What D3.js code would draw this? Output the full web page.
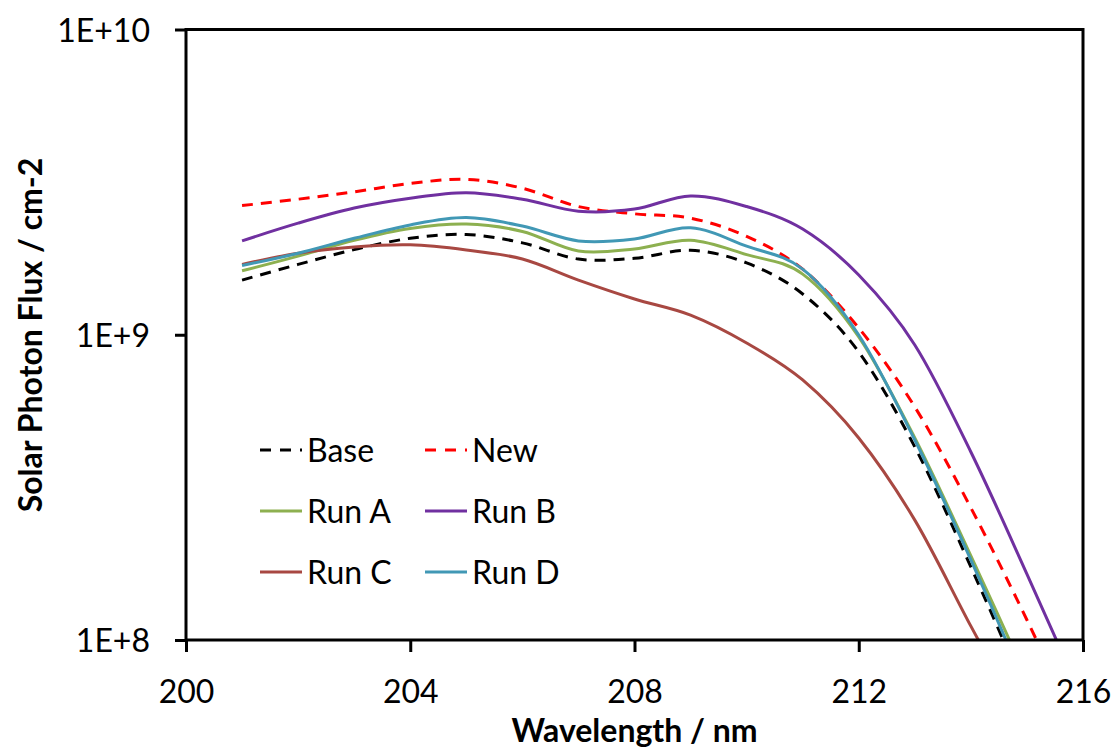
<!DOCTYPE html>
<html>
<head>
<meta charset="utf-8">
<script src="https://cdn.jsdelivr.net/npm/d3@7"></script>
<style>
  html, body { margin: 0; padding: 0; background: #fff; }
  svg { display: block; }
  text { font-family: Lato, "Open Sans", "DejaVu Sans", sans-serif; fill: #000; }
</style>
</head>
<body>
<svg id="chart" width="1115" height="751"></svg>
<script>
// ---- data ----
const wavelengths = [201, 202, 203, 204, 205, 206, 207, 208, 209, 210, 211, 212, 213, 214, 215, 216];
const base = [1.51e9, 1.70e9, 1.90e9, 2.07e9, 2.13e9, 2.00e9, 1.77e9, 1.78e9, 1.89e9, 1.72e9, 1.36e9, 8.78e8, 4.29e8, 1.735e8, 6.60e7, 2.38e7];
const newer = [2.65e9, 2.78e9, 2.94e9, 3.13e9, 3.23e9, 3.02e9, 2.63e9, 2.49e9, 2.41e9, 2.10e9, 1.64e9, 1.052e9, 5.80e8, 2.71e8, 1.163e8, 4.70e7];
const runA = [1.62e9, 1.81e9, 2.04e9, 2.23e9, 2.305e9, 2.18e9, 1.88e9, 1.91e9, 2.04e9, 1.83e9, 1.58e9, 9.83e8, 4.59e8, 1.885e8, 7.40e7, 2.57e7];
const runB = [2.03e9, 2.32e9, 2.60e9, 2.80e9, 2.92e9, 2.78e9, 2.54e9, 2.58e9, 2.85e9, 2.63e9, 2.22e9, 1.569e9, 9.26e8, 4.13e8, 1.645e8, 6.36e7];
const runC = [1.70e9, 1.85e9, 1.94e9, 1.97e9, 1.895e9, 1.77e9, 1.51e9, 1.31e9, 1.16e9, 9.40e8, 7.11e8, 4.59e8, 2.47e8, 1.11e8, 5.07e7, 2.05e7];
const runD = [1.686e9, 1.85e9, 2.07e9, 2.29e9, 2.42e9, 2.27e9, 2.03e9, 2.06e9, 2.24e9, 1.95e9, 1.64e9, 9.98e8, 4.52e8, 1.829e8, 6.86e7, 2.38e7];

const seriesNames = ["Base", "New", "Run A", "Run B", "Run C", "Run D"];
const seriesValues = [base, newer, runA, runB, runC, runD];
const seriesColors = ["#000000", "#ff0000", "#8db050", "#7030a0", "#a84842", "#4198b5"];
const seriesDashed = [true, true, false, false, false, false];

const xTicks = [200, 204, 208, 212, 216];
const yTicks = [1e8, 1e9, 1e10];
const yTickLabels = ["1E+8", "1E+9", "1E+10"];
const xTitle = "Wavelength / nm";
const yTitle = "Solar Photon Flux / cm-2";

// ---- layout ----
const L = 186, R = 1083, T = 29.5, B = 640;
const svg = d3.select("#chart");

const x = d3.scaleLinear().domain([200, 216]).range([L, R]);
const y = d3.scaleLog().domain([1e8, 1e10]).range([B, T]);

svg.append("defs").append("clipPath").attr("id", "plotclip")
  .append("rect").attr("x", L).attr("y", T).attr("width", R - L).attr("height", B - T);

// series
const line = d3.line()
  .x(d => x(d[0]))
  .y(d => y(d[1]))
  .curve(d3.curveCardinal.tension(0));

const gLines = svg.append("g").attr("clip-path", "url(#plotclip)");
seriesValues.forEach((vals, i) => {
  const pts = wavelengths.map((w, j) => [w, vals[j]]);
  gLines.append("path")
    .attr("d", line(pts))
    .attr("fill", "none")
    .attr("stroke", seriesColors[i])
    .attr("stroke-width", 3)
    .attr("stroke-dasharray", seriesDashed[i] ? "11,8" : null)
    .attr("stroke-linejoin", "round");
});

// frame
svg.append("rect").attr("x", L).attr("y", T).attr("width", R - L).attr("height", B - T)
  .attr("fill", "none").attr("stroke", "#000").attr("stroke-width", 3);

// x axis
const xAxis = d3.axisBottom(x).tickValues(xTicks).tickSize(12).tickSizeOuter(0).tickFormat(d3.format("d"));
const gx = svg.append("g").attr("transform", `translate(0,${B})`).call(xAxis);
gx.select(".domain").remove();
gx.selectAll(".tick line").attr("stroke", "#000").attr("stroke-width", 3);
gx.selectAll(".tick text").attr("font-size", 32).attr("dy", null).attr("y", 63)
  .attr("font-family", "Lato, 'Open Sans', sans-serif");

// y axis
const yAxis = d3.axisLeft(y).tickValues(yTicks).tickSize(11).tickSizeOuter(0)
  .tickFormat((d, i) => yTickLabels[i]);
const gy = svg.append("g").attr("transform", `translate(${L},0)`).call(yAxis);
gy.select(".domain").remove();
gy.selectAll(".tick line").attr("stroke", "#000").attr("stroke-width", 3);
gy.selectAll(".tick text").attr("font-size", 32).attr("x", -36).attr("dy", "0.36em")
  .attr("font-family", "Lato, 'Open Sans', sans-serif");

// titles
svg.append("text").attr("x", (L + R) / 2).attr("y", 742).attr("text-anchor", "middle")
  .attr("font-size", 32).attr("font-weight", "bold").text(xTitle);
svg.append("text").attr("transform", `translate(42,335) rotate(-90)`).attr("text-anchor", "middle")
  .attr("font-size", 32).attr("font-weight", "bold").text(yTitle);

// legend
const legX = [260, 425], legY = [450, 511, 572];
seriesNames.forEach((name, i) => {
  const col = i % 2, row = Math.floor(i / 2);
  const lx = legX[col], ly = legY[row];
  svg.append("line").attr("x1", lx).attr("x2", lx + 42).attr("y1", ly).attr("y2", ly)
    .attr("stroke", seriesColors[i]).attr("stroke-width", 3)
    .attr("stroke-dasharray", seriesDashed[i] ? "11,9" : null);
  svg.append("text").attr("x", lx + 47).attr("y", ly).attr("dy", "0.36em")
    .attr("font-size", 32).text(name);
});
</script>
</body>
</html>
